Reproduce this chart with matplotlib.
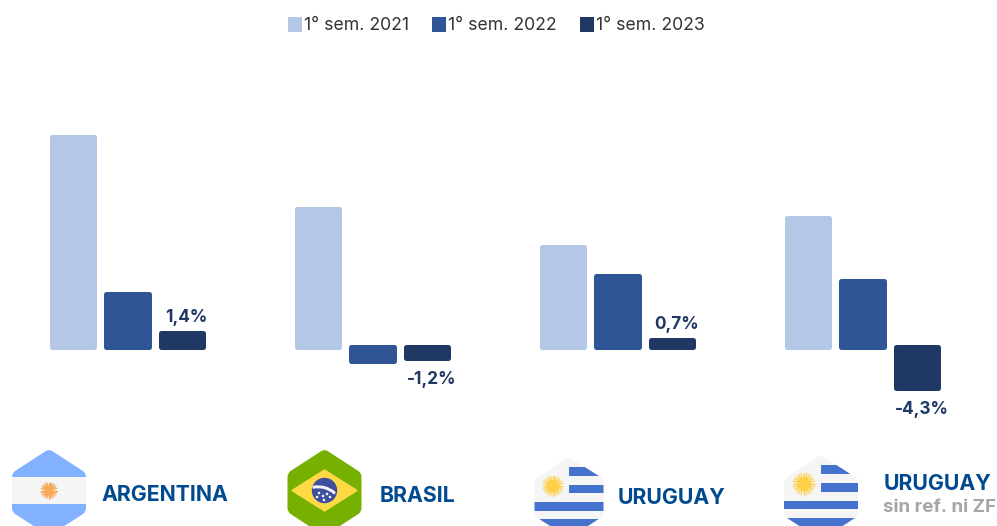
"""Semestral variation by country: grouped bars with flag badges."""

import matplotlib
matplotlib.use("Agg")
import matplotlib.pyplot as plt
from matplotlib.patches import Circle, PathPatch, Polygon, Rectangle, Wedge
from matplotlib.path import Path
import numpy as np

plt.rcParams["font.family"] = ["Inter", "DejaVu Sans"]

# --- Data ---
series_labels = ["1° sem. 2021", "1° sem. 2022", "1° sem. 2023"]
values_2021 = [21.6, 14.2, 10.3, 13.2]
values_2022 = [5.4, -1.5, 7.3, 6.8]
values_2023 = [1.4, -1.2, 0.7, -4.3]
value_labels = ["1,4%", "-1,2%", "0,7%", "-4,3%"]
country_labels = ["ARGENTINA", "BRASIL", "URUGUAY", "URUGUAY"]

COLORS = ["#B4C7E7", "#2F5597", "#1F3864"]
NAVY = "#004A8F"
W, H = 997, 526
PX_PER_UNIT = 9.7  # vertical scale
GROUP_PX = 245.0
ZERO_Y = 346.5
FIRST_X = 127.5

fig = plt.figure(figsize=(W / 100, H / 100), dpi=100)

# --- Bars ---
ax = fig.add_axes([0, 0, 1, 1])
ax.set_xlim(-FIRST_X / GROUP_PX, (W - FIRST_X) / GROUP_PX)
ax.set_ylim(-(H - ZERO_Y) / PX_PER_UNIT, ZERO_Y / PX_PER_UNIT)
ax.axis("off")

x = np.arange(len(country_labels))
offset = 54.5 / GROUP_PX
width = 42.5 / GROUP_PX
bars = []
for i, vals in enumerate([values_2021, values_2022, values_2023]):
    b = ax.bar(x + (i - 1) * offset, vals, width, color=COLORS[i],
               edgecolor=COLORS[i], linewidth=3.6, joinstyle="round",
               label=series_labels[i])
    bars.append(b)

for xi, v, lab in zip(x, values_2023, value_labels):
    dy = 15 if v >= 0 else -21
    ax.annotate(lab, (xi + offset, v), xytext=(4.5, dy), textcoords="offset pixels",
                ha="center", va="center", fontsize=12.4, fontweight="bold",
                color=COLORS[2])

ax.legend(loc="center", bbox_to_anchor=(497.5 / W, 1 - 26 / H), ncol=3, frameon=False,
          fontsize=12.7, labelcolor="#333333", handlelength=0.5, handleheight=0.5,
          handletextpad=0.3, columnspacing=1.42)

# --- Flags, drawn in pixel coordinates ---
fx = fig.add_axes([0, 0, 1, 1], facecolor="none")
fx.set_xlim(0, W)
fx.set_ylim(H, 0)
fx.axis("off")


def hexagon(cx, half, top, bottom, shoulder, color, d=4.0):
    pts = np.array([(cx, top), (cx + half, top + shoulder), (cx + half, bottom - shoulder),
                    (cx, bottom), (cx - half, bottom - shoulder), (cx - half, top + shoulder)])
    verts, codes = [], []
    n = len(pts)
    for i in range(n):
        p, prev, nxt = pts[i], pts[i - 1], pts[(i + 1) % n]
        a = p + (prev - p) / np.linalg.norm(prev - p) * d
        c = p + (nxt - p) / np.linalg.norm(nxt - p) * d
        verts += [a, p, c]
        codes += [Path.MOVETO if i == 0 else Path.LINETO, Path.CURVE3, Path.CURVE3]
    verts.append(verts[0])
    codes.append(Path.CLOSEPOLY)
    hex_patch = PathPatch(Path(verts, codes), facecolor=color, edgecolor="none")
    fx.add_patch(hex_patch)
    return hex_patch


def sun(cx, cy, r, ray_color, core_color):
    for a in np.linspace(0, 2 * np.pi, 24, endpoint=False):
        fx.plot([cx, cx + r * np.cos(a)], [cy, cy + r * np.sin(a)], color=ray_color,
                linewidth=0.9, solid_capstyle="round")
    fx.add_patch(Circle((cx, cy), r * 0.58, color=core_color))


def stripe(clip, x0, x1, y0, y1, color):
    r = Rectangle((x0, y0), x1 - x0, y1 - y0, color=color, linewidth=0)
    fx.add_patch(r)
    r.set_clip_path(clip)


# Argentina
h = hexagon(49, 37, 449, 536, 24, "#82B1FF")
stripe(h, 10, 90, 477, 504, "#F5F5F5")
sun(49, 490.5, 8, "#F6A75A", "#FFD54F")

# Brasil
hexagon(324.5, 37, 449, 536, 24, "#76B000")
fx.add_patch(Polygon([(292, 490.5), (324.5, 470), (357, 490.5), (324.5, 511)],
                     closed=True, color="#FFDA44"))
fx.add_patch(Circle((324.5, 490.5), 12, color="#3D4F9F"))
fx.add_patch(Wedge((318, 512), 26, 259, 311, width=1.6, color="#F5F5F5"))
for dot_x, dot_y in [(319, 493), (323, 496), (327, 494), (330, 497), (324, 500), (317, 497)]:
    fx.add_patch(Circle((dot_x, dot_y), 0.6, color="#F5F5F5"))

# Uruguay
h = hexagon(569, 34.5, 457, 538, 22, "#F5F5F5")
for y0, y1, x0 in [(467, 476, 569), (485, 493, 569), (502, 511, 530), (519, 530, 530)]:
    stripe(h, x0, 610, y0, y1, "#4472CC")
sun(553, 486, 10, "#FFCF4A", "#FFD54F")

# Uruguay sin ref. ni ZF
h = hexagon(821, 37, 455, 540, 24, "#F5F5F5")
for y0, y1, x0 in [(465, 474, 821), (483, 492, 821), (501, 509, 780), (518, 530, 780)]:
    stripe(h, x0, 865, y0, y1, "#4472CC")
sun(804, 484, 11, "#FFCF4A", "#FFD54F")

# --- Country names ---
name_pos = [(101, 495), (380, 496.5), (618, 498), (884, 484)]
for (tx, ty), name in zip(name_pos, country_labels):
    fx.text(tx, ty, name, fontsize=15.3, fontweight="bold", color=NAVY,
            ha="left", va="center")
fx.text(883, 508, "sin ref. ni ZF", fontsize=13.5, fontweight="bold", color="#A6A6A6",
        ha="left", va="center")

fig.savefig("out.png", dpi=100, facecolor="white")
plt.close(fig)
